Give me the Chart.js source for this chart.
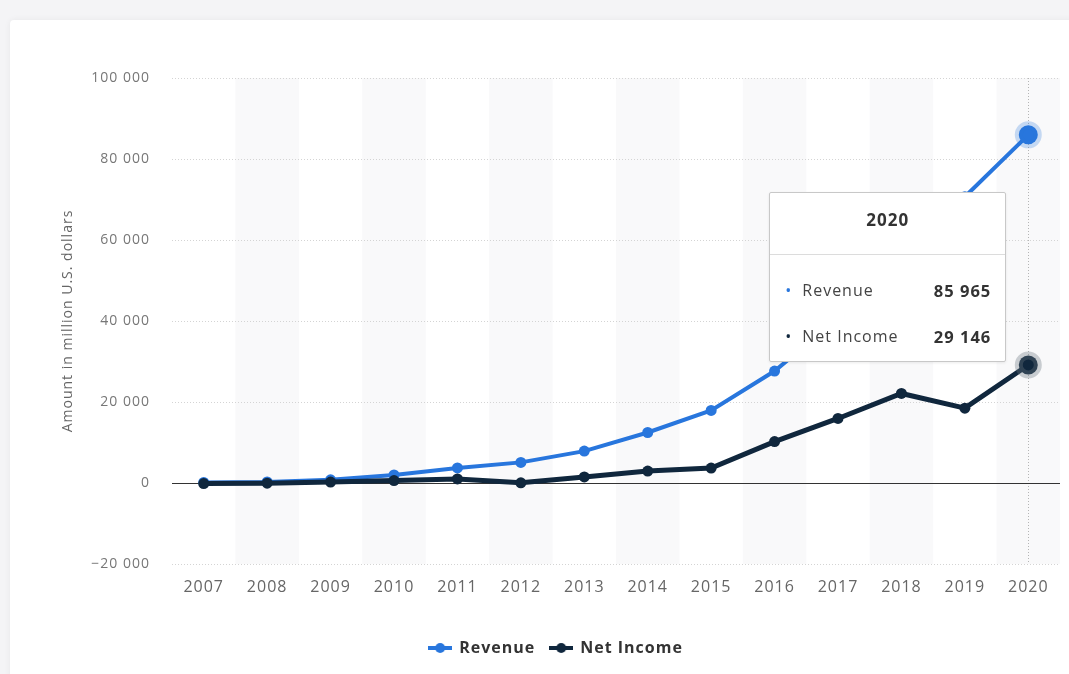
<!DOCTYPE html>
<html>
<head>
<meta charset="utf-8">
<script src="https://cdn.jsdelivr.net/npm/chart.js@4"></script>
<style>
  body { margin: 0; background: #f4f4f6; font-family: "Open Sans", sans-serif; overflow: hidden; }
  #card { position: absolute; left: 10px; top: 20px; width: 1080px; height: 700px; background: #fff;
          border-radius: 4px; box-shadow: 0 0 6px rgba(0,0,0,0.06); }
  #wrap { position: absolute; left: 0; top: 0; width: 1069px; height: 674px; }
  #tip { position: absolute; width: 235px; height: 168px; background: #fff; border: 1px solid #c8c8c8;
         border-radius: 2px; box-shadow: 0 1px 3px rgba(0,0,0,0.08); color: #333; letter-spacing: 1px; }
  #tip .ttl { text-align: center; font-weight: 700; font-size: 17px; margin-top: 15px; height: 31px; }
  #tip .sep { height: 1px; background: #dcdcdc; margin-top: 15px; }
  #tip .row { position: relative; height: 46px; font-size: 16px; }
  #tip .row span { position: absolute; top: 0; }
  #tip .dot { left: 15px; font-size: 16px; }
  #tip .lab { left: 32px; color: #444; }
  #tip .val { right: 14px; font-weight: 700; font-size: 16.5px; }
</style>
</head>
<body>
<div id="card"></div>
<div id="wrap">
  <canvas id="chart" width="1069" height="674"></canvas>
  <div id="tip"></div>
</div>
<script>
// Data
var years = ["2007","2008","2009","2010","2011","2012","2013","2014","2015","2016","2017","2018","2019","2020"]
var revenue = [153, 272, 777, 1974, 3711, 5089, 7872, 12466, 17928, 27638, 40653, 55838, 70697, 85965]
var netIncome = [-138, -56, 229, 606, 1000, 53, 1500, 2940, 3688, 10217, 15934, 22112, 18485, 29146]
var yTicks = [-20000, 0, 20000, 40000, 60000, 80000, 100000]

var blue = "#2876dd"
var navy = "#10273d"
var hoverIdx = years.length - 1

function fmt(v) {
    var s = Math.abs(v).toLocaleString("en-US").replace(/,/g, " ")
    return (v < 0 ? "\u2212" : "") + s
}

function legendIcon(color) {
    var c = document.createElement("canvas")
    c.width = 24; c.height = 12
    var x = c.getContext("2d")
    x.strokeStyle = color; x.lineWidth = 4
    x.beginPath(); x.moveTo(0, 6); x.lineTo(24, 6); x.stroke()
    x.fillStyle = color
    x.beginPath(); x.arc(12, 6, 5, 0, Math.PI * 2); x.fill()
    return c
}

function pointSizes(big, small) {
    return years.map(function (y, i) { return i == hoverIdx ? big : small })
}

// text on the canvas is slightly letter-spaced
var spacing = {
    id: "spacing",
    beforeUpdate: function (chart) { chart.ctx.letterSpacing = "1px" },
    beforeLayout: function (chart) { chart.ctx.letterSpacing = "1px" },
    afterLayout: function (chart) {
        // legend sits a bit right of the canvas centre
        chart.legend.left += 26
        chart.legend.right += 26
    },
    beforeDraw: function (chart) { chart.ctx.letterSpacing = "1px" }
}

// alternating column bands + hover line + zero line
var bands = {
    id: "bands",
    beforeDraw: function (chart) {
        var ctx = chart.ctx, a = chart.chartArea
        var w = (a.right - a.left) / years.length
        ctx.save()
        ctx.fillStyle = "#f9f9fa"
        for (var i = 1; i < years.length; i += 2) {
            ctx.fillRect(a.left + i * w, a.top, w, a.bottom - a.top)
        }
        ctx.restore()
    },
    beforeDatasetsDraw: function (chart) {
        var ctx = chart.ctx, a = chart.chartArea, ys = chart.scales.y
        var x0 = chart.scales.x.getPixelForValue(hoverIdx)
        ctx.save()
        ctx.strokeStyle = "#b5b5b5"; ctx.lineWidth = 1
        ctx.setLineDash([1, 2])
        ctx.beginPath(); ctx.moveTo(Math.round(x0) + 0.5, a.top); ctx.lineTo(Math.round(x0) + 0.5, a.bottom); ctx.stroke()
        ctx.setLineDash([])
        var z = Math.round(ys.getPixelForValue(0)) + 0.5
        ctx.strokeStyle = "#333"
        ctx.beginPath(); ctx.moveTo(a.left, z); ctx.lineTo(a.right, z); ctx.stroke()
        ctx.restore()
    }
}

var ctx = document.getElementById("chart").getContext("2d")
var chart = new Chart(ctx, {
    type: "line",
    data: {
        labels: years,
        datasets: [{
            label: "Revenue",
            data: revenue,
            borderColor: blue,
            backgroundColor: blue,
            borderWidth: 4,
            pointRadius: pointSizes(9.5, 5.5),
            pointBorderWidth: pointSizes(8, 0),
            pointBorderColor: pointSizes("rgba(40,118,221,0.25)", blue),
            order: 2
        }, {
            label: "Net Income",
            data: netIncome,
            borderColor: navy,
            backgroundColor: navy,
            borderWidth: 5,
            pointRadius: pointSizes(9.5, 5.5),
            pointBorderWidth: pointSizes(8, 0),
            pointBorderColor: pointSizes("rgba(110,120,130,0.35)", navy),
            order: 1
        }]
    },
    options: {
        responsive: false,
        animation: false,
        events: [],
        layout: { autoPadding: false, padding: { top: 78, right: 9, bottom: 8, left: 0 } },
        scales: {
            x: {
                offset: true,
                grid: { display: false, drawTicks: false },
                border: { display: false },
                ticks: { color: "#666", padding: 14, font: { family: "Open Sans", size: 16 } },
                afterFit: function (s) { s.height = 61 }
            },
            y: {
                min: -20000, max: 100000,
                afterBuildTicks: function (s) { s.ticks = yTicks.map(function (v) { return { value: v } }) },
                grid: { color: "#d4d4d4", drawTicks: false },
                border: { display: false, dash: [1, 2] },
                ticks: { color: "#777", padding: 22, font: { family: "Open Sans", size: 14 },
                         callback: function (v) { return fmt(v) } },
                title: { display: true, text: "Amount in million U.S. dollars", color: "#666",
                         font: { family: "Open Sans", size: 14 }, padding: { top: 60, bottom: 0 } },
                afterFit: function (s) { s.width = 172 }
            }
        },
        plugins: {
            tooltip: { enabled: false },
            legend: {
                position: "bottom",
                labels: {
                    usePointStyle: true,
                    pointStyleWidth: 22,
                    color: "#333",
                    padding: 15,
                    font: { family: "Open Sans", size: 16, weight: "bold" },
                    sort: function (a, b) { return a.datasetIndex - b.datasetIndex },
                    generateLabels: function (ch) {
                        var items = Chart.defaults.plugins.legend.labels.generateLabels(ch)
                        items.forEach(function (it) {
                            it.pointStyle = legendIcon(it.datasetIndex == 0 ? blue : navy)
                        })
                        return items
                    }
                }
            }
        }
    },
    plugins: [spacing, bands]
})

// tooltip box for the hovered year
var tip = document.getElementById("tip")
var px = chart.scales.x.getPixelForValue(hoverIdx)
tip.style.left = (px - 22 - 237) + "px"
tip.style.top = "192px"
var html = '<div class="ttl">' + years[hoverIdx] + '</div><div class="sep"></div><div style="height:24px"></div>'
var rows = [["Revenue", revenue[hoverIdx], blue], ["Net Income", netIncome[hoverIdx], navy]]
rows.forEach(function (r) {
    html += '<div class="row"><span class="dot" style="color:' + r[2] + '">&bull;</span>' +
            '<span class="lab">' + r[0] + '</span><span class="val">' + fmt(r[1]) + '</span></div>'
})
tip.innerHTML = html
</script>
</body>
</html>
